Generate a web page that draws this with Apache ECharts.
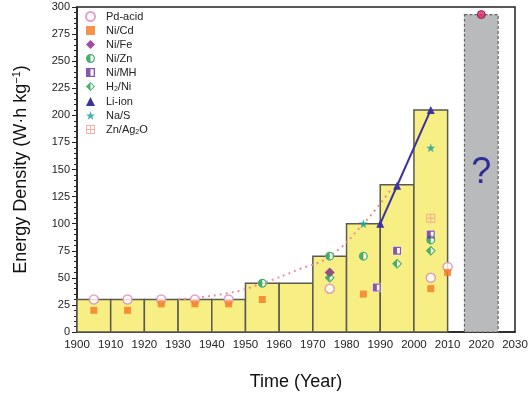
<!DOCTYPE html>
<html>
<head>
<meta charset="utf-8">
<script src="https://cdn.jsdelivr.net/npm/echarts@6/dist/echarts.min.js"></script>
<style>
html, body { margin: 0; padding: 0; background: #fff; }
#chart { width: 531px; height: 394px; }
</style>
</head>
<body>
<div id="chart"></div>
<script>
// decade bars
var decadeStart = [1900, 1910, 1920, 1930, 1940, 1950, 1960, 1970, 1980, 1990, 2000];
var decadeHeight = [30, 30, 30, 30, 30, 45, 45, 70, 100, 136, 205];
// future (?) bar: from, to, height
var futureBar = [[2015, 2025, 293]];
var futureDot = [[2020, 293]];

// battery chemistries [year, Wh/kg]
var pdAcid = [[1905, 30], [1915, 30], [1925, 30], [1935, 30], [1945, 30], [1975, 40], [2005, 50], [2010, 60]];
var niCd = [[1905, 20], [1915, 20], [1925, 26], [1935, 26], [1945, 26], [1955, 30], [1985, 35], [2005, 40], [2010, 55]];
var niFe = [[1975, 55]];
var niZn = [[1955, 45], [1975, 70], [1985, 70], [2005, 85]];
var niMH = [[1989, 41], [1995, 75], [2005, 90]];
var h2Ni = [[1975, 50], [1995, 63], [2005, 75]];
var liIon = [[1990, 100], [1995, 135], [2005, 205]];
var naS = [[1985, 100], [2005, 170]];
var znAg2O = [[2005, 105]];
var trend = [[1930, 30], [1945, 36], [1955, 45], [1966, 58], [1975, 70], [1985, 100], [1993, 131]];

var xTicks = { min: 1900, max: 2030, step: 10 };
var yTicks = { min: 0, max: 300, step: 25 };

// symbol shapes (ring + half fill, nonzero winding)
var halfCircle = 'path://M0,-10 A10,10 0 1,1 0,10 A10,10 0 1,1 0,-10 Z M0,-7 A7,7 0 1,0 0,7 A7,7 0 1,0 0,-7 Z M0,7 A7,7 0 0,1 0,-7 Z';
var halfSquare = 'path://M-10,-10 H10 V10 H-10 Z M-7,-7 V7 H7 V-7 Z M-7,-7 H0 V7 H-7 Z';
var halfDiamond = 'path://M0,-10 L10,0 L0,10 L-10,0 Z M0,-7 L-7,0 L0,7 L7,0 Z M0,-7 L0,7 L-7,0 Z';
var star = 'path://M0,-10 L2.35,-3.24 L9.51,-3.09 L3.8,1.24 L5.88,8.09 L0,4 L-5.88,8.09 L-3.8,1.24 L-9.51,-3.09 L-2.35,-3.24 Z';
var gridSquare = 'path://M-10,-10 H10 V10 H-10 Z M-8,-8 V-1 H-1 V-8 Z M1,-8 V-1 H8 V-8 Z M-8,1 V8 H-1 V1 Z M1,1 V8 H8 V1 Z';

var chart = echarts.init(document.getElementById('chart'));

function barItem(params, api) {
    var p0 = api.coord([api.value(0), 0]);
    var p1 = api.coord([api.value(1), api.value(2)]);
    return {
        type: 'rect',
        shape: { x: p0[0], y: p1[1], width: p1[0] - p0[0], height: p0[1] - p1[1] },
        style: { fill: '#f8ef84', stroke: '#5a5a50', lineWidth: 1.5 }
    };
}

function futureItem(params, api) {
    var p0 = api.coord([api.value(0), 0]);
    var p1 = api.coord([api.value(1), api.value(2)]);
    return {
        type: 'group',
        children: [{
            type: 'rect',
            shape: { x: p0[0], y: p1[1], width: p1[0] - p0[0], height: p0[1] - p1[1] },
            style: { fill: '#b8babc', stroke: '#666', lineWidth: 1.2, lineDash: [3, 2] }
        }, {
            type: 'text',
            x: (p0[0] + p1[0]) / 2,
            y: (p0[1] + p1[1]) / 2,
            style: {
                text: '?', fill: '#2d2d95', font: '36px "Liberation Sans", Arial, sans-serif',
                align: 'center', verticalAlign: 'middle'
            }
        }]
    };
}

function underlay(data, symbol) {
    return {
        type: 'scatter', data: data, symbol: symbol, symbolSize: 9, silent: true, z: 3,
        itemStyle: { color: '#fff' }
    };
}

var textFont = '"Liberation Sans", Arial, sans-serif';

var option = {
    animation: false,
    backgroundColor: '#fff',
    grid: {
        left: 77, right: 16, top: 7, bottom: 62, outerBoundsMode: 'none',
        show: true, borderColor: '#222', borderWidth: 1.5
    },
    legend: {
        orient: 'vertical', left: 80, top: 6, itemWidth: 9, itemHeight: 9, itemGap: 3,
        textStyle: {
            fontFamily: textFont, fontSize: 11, color: '#222', padding: [0, 0, 0, 6],
            rich: {
                t: { fontFamily: textFont, fontSize: 11, color: '#222' },
                sub: { fontFamily: textFont, fontSize: 7, color: '#222', padding: [6, 0, 0, 0] }
            }
        },
        formatter: function (name) {
            if (name === 'H2/Ni') return '{t|H}{sub|2}{t|/Ni}';
            if (name === 'Zn/Ag2O') return '{t|Zn/Ag}{sub|2}{t|O}';
            return '{t|' + name + '}';
        },
        data: [
            { name: 'Pd-acid', icon: 'circle' },
            { name: 'Ni/Cd', icon: 'rect' },
            { name: 'Ni/Fe', icon: 'diamond' },
            { name: 'Ni/Zn', icon: halfCircle },
            { name: 'Ni/MH', icon: halfSquare },
            { name: 'H2/Ni', icon: halfDiamond },
            { name: 'Li-ion', icon: 'triangle' },
            { name: 'Na/S', icon: star },
            { name: 'Zn/Ag2O', icon: gridSquare }
        ]
    },
    xAxis: {
        type: 'value', min: xTicks.min, max: xTicks.max, interval: xTicks.step,
        name: 'Time (Year)', nameLocation: 'middle', nameGap: 41,
        nameTextStyle: { fontFamily: textFont, fontSize: 18, color: '#111' },
        axisLine: { lineStyle: { color: '#222', width: 1.5 } },
        axisTick: { show: false },
        axisLabel: {
            fontFamily: textFont, fontSize: 11.5, color: '#222', margin: 7,
            formatter: function (v) { return String(v); }
        },
        splitLine: { show: false }
    },
    yAxis: {
        type: 'value', min: yTicks.min, max: yTicks.max, interval: yTicks.step,
        name: '{a|Energy Density (W·h kg}{s|−1}{a|)}', nameLocation: 'middle', nameGap: 45,
        nameTextStyle: {
            rich: {
                a: { fontFamily: textFont, fontSize: 18, color: '#111' },
                s: { fontFamily: textFont, fontSize: 11, color: '#111', padding: [0, 0, 10, 0] }
            }
        },
        axisLine: { show: true, lineStyle: { color: '#222', width: 1.5 } },
        axisTick: { show: true, length: 5, lineStyle: { color: '#222' } },
        minorTick: { show: true, splitNumber: 5, length: 3, lineStyle: { color: '#222' } },
        axisLabel: { fontFamily: textFont, fontSize: 11, color: '#222', margin: 7 },
        splitLine: { show: false }
    },
    series: [
        {
            type: 'custom', renderItem: barItem, silent: true, z: 1,
            data: decadeStart.map(function (s, i) { return [s, s + 10, decadeHeight[i]]; }),
            encode: { x: [0, 1], y: 2 }
        },
        {
            type: 'custom', renderItem: futureItem, silent: true, z: 1,
            data: futureBar, encode: { x: [0, 1], y: 2 }
        },
        {
            type: 'line', data: trend, smooth: true, showSymbol: false, silent: true, z: 2,
            lineStyle: { color: '#ec8c9c', width: 2, type: [2, 4] }
        },
        {
            type: 'scatter', data: futureDot, symbol: 'circle', symbolSize: 8, z: 5,
            itemStyle: { color: '#e3256b', borderColor: '#7a1040', borderWidth: 1 }
        },
        underlay(niZn, 'circle'),
        underlay(niMH, 'rect'),
        underlay(h2Ni, 'diamond'),
        {
            name: 'Pd-acid', type: 'scatter', data: pdAcid, symbol: 'circle', symbolSize: 9, z: 4,
            itemStyle: { color: '#fff', borderColor: '#d98cbf', borderWidth: 1.5 }
        },
        {
            name: 'Ni/Cd', type: 'scatter', data: niCd, symbol: 'rect', symbolSize: 7, z: 4,
            itemStyle: { color: '#f47920' }
        },
        {
            name: 'Ni/Fe', type: 'scatter', data: niFe, symbol: 'diamond', symbolSize: 10, z: 4,
            itemStyle: { color: '#8a1c8c' }
        },
        {
            name: 'Ni/Zn', type: 'scatter', data: niZn, symbol: halfCircle, symbolSize: 9, z: 4,
            itemStyle: { color: '#1a9a48' }
        },
        {
            name: 'Ni/MH', type: 'scatter', data: niMH, symbol: halfSquare, symbolSize: 8, z: 4,
            itemStyle: { color: '#6a2c9c' }
        },
        {
            name: 'H2/Ni', type: 'scatter', data: h2Ni, symbol: halfDiamond, symbolSize: 10, z: 4,
            itemStyle: { color: '#1a9a48' }
        },
        {
            name: 'Li-ion', type: 'line', data: liIon, symbol: 'triangle', symbolSize: 8, z: 4,
            lineStyle: { color: '#3b33a0', width: 2 },
            itemStyle: { color: '#3b33a0' }
        },
        {
            name: 'Na/S', type: 'scatter', data: naS, symbol: star, symbolSize: 9, z: 4,
            itemStyle: { color: '#179c9c' }
        },
        {
            name: 'Zn/Ag2O', type: 'scatter', data: znAg2O, symbol: gridSquare, symbolSize: 9, z: 4,
            itemStyle: { color: '#f29a90' }
        }
    ]
};

chart.setOption(option);
</script>
</body>
</html>
